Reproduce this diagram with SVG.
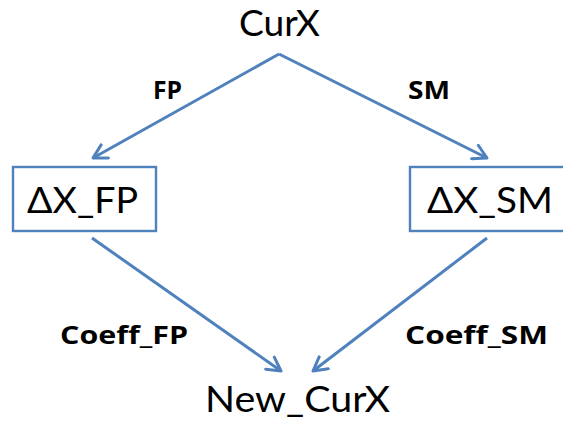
<svg xmlns="http://www.w3.org/2000/svg" width="563" height="422" viewBox="0 0 563 422">
  <style>
    .node-text { font-family: Lato, "Open Sans", sans-serif; font-size: 36px; fill: #000; }
    .edge-label { font-family: "Open Sans", Lato, sans-serif; font-weight: bold; font-size: 25px; fill: #000; }
    .box { fill: #fff; stroke: #4F81BD; stroke-width: 2.4; }
    .edge { fill: none; stroke: #4F81BD; stroke-width: 3; marker-end: url(#arrow); }
  </style>
  <defs>
    <marker id="arrow" viewBox="0 0 12 12" refX="10" refY="6" markerWidth="6" markerHeight="6" orient="auto" markerUnits="strokeWidth">
      <path d="M1,1 L10,6 L1,11" fill="none" stroke="#4F81BD" stroke-width="2" stroke-linecap="round" stroke-linejoin="round"/>
    </marker>
  </defs>
  <rect width="563" height="422" fill="#fff"/>

  <g id="connectors">
    <line class="edge" x1="279" y1="54" x2="93" y2="158"/>
    <line class="edge" x1="279" y1="54" x2="487" y2="158"/>
    <line class="edge" x1="92" y1="238" x2="281" y2="371"/>
    <line class="edge" x1="487" y1="238" x2="313" y2="371"/>
    <text class="edge-label" x="153" y="99" textLength="29" lengthAdjust="spacingAndGlyphs">FP</text>
    <text class="edge-label" x="408" y="99" textLength="42" lengthAdjust="spacingAndGlyphs">SM</text>
    <text class="edge-label" x="60" y="344" textLength="128" lengthAdjust="spacingAndGlyphs">Coeff_FP</text>
    <text class="edge-label" x="405" y="344" textLength="143" lengthAdjust="spacingAndGlyphs">Coeff_SM</text>
  </g>

  <g id="node-curx">
    <text class="node-text" x="239" y="36" textLength="81" lengthAdjust="spacingAndGlyphs">CurX</text>
  </g>

  <g id="node-dx-fp">
    <rect class="box" x="13" y="167" width="143" height="64"/>
    <text class="node-text" x="27" y="213" textLength="111" lengthAdjust="spacingAndGlyphs">ΔX_FP</text>
  </g>

  <g id="node-dx-sm">
    <rect class="box" x="410" y="167" width="160" height="64"/>
    <text class="node-text" x="427" y="213" textLength="126" lengthAdjust="spacingAndGlyphs">ΔX_SM</text>
  </g>

  <g id="node-new-curx">
    <text class="node-text" x="205" y="412" textLength="185" lengthAdjust="spacingAndGlyphs">New_CurX</text>
  </g>
</svg>
